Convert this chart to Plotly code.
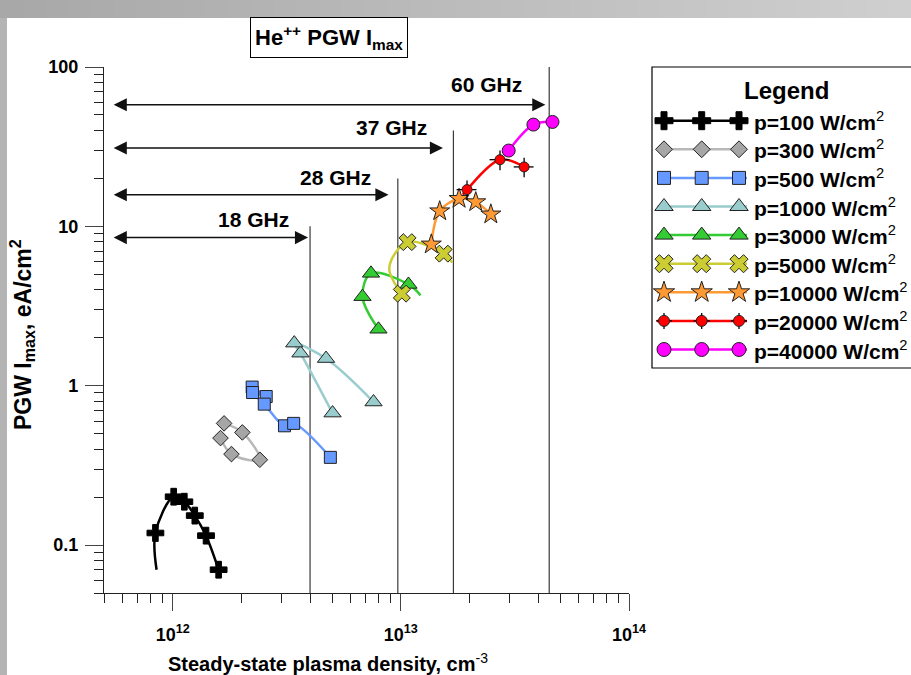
import numpy as np
import plotly.graph_objects as go

# ---------------- data: steady-state density (cm^-3) and PGW Imax (eA/cm^2) ----------------
p100_n = [8.4e11, 1.01e12, 1.125e12, 1.25e12, 1.40e12, 1.59e12]
p100_I = [0.119, 0.201, 0.187, 0.153, 0.1145, 0.070]
# lower start of the fitted p=100 curve
p100_head_n = [8.5e11]
p100_head_I = [0.070]

p300_n = [1.68e12, 2.02e12, 2.41e12, 1.81e12, 1.62e12]
p300_I = [0.58, 0.509, 0.343, 0.372, 0.469]

p500_n = [2.23e12, 2.57e12, 2.24e12, 2.52e12, 3.09e12, 3.39e12, 4.91e12]
p500_I = [0.98, 0.855, 0.906, 0.766, 0.56, 0.58, 0.355]

p1000_n = [5.02e12, 3.63e12, 3.41e12, 4.70e12, 7.59e12]
p1000_I = [0.673, 1.60, 1.85, 1.48, 0.79]

p3000_n = [7.98e12, 6.79e12, 7.40e12, 1.08e13]
p3000_I = [2.26, 3.62, 5.07, 4.32]
# fitted curve runs on past the last point
p3000_tail_n = [1.22e13]
p3000_tail_I = [3.69]

p5000_n = [1.01e13, 1.07e13, 1.54e13]
p5000_I = [3.78, 7.96, 6.74]
# fitted curve: bend between the first two points and run-out after the last
p5000_bend_n = [8.9e12]
p5000_bend_I = [5.5]
p5000_tail_n = [1.68e13]
p5000_tail_I = [5.92]

p10000_n = [1.36e13, 1.48e13, 1.80e13, 2.13e13, 2.48e13]
p10000_I = [7.71, 12.45, 14.9, 14.2, 11.9]

p20000_n = [1.95e13, 2.72e13, 3.47e13]
p20000_I = [17.0, 26.2, 23.6]
p20000_head_n = [1.87e13]
p20000_head_I = [15.8]
p20000_err_n_pct = 10
p20000_err_I_pct = 14

p40000_n = [2.97e13, 3.81e13, 4.62e13]
p40000_I = [29.9, 43.5, 45.2]

# cutoff densities for the microwave frequencies and the height of their markers
freq_labels = ["18 GHz", "28 GHz", "37 GHz", "60 GHz"]
cutoff_n = [4.0e12, 9.7e12, 1.70e13, 4.47e13]
cutoff_top = [10, 20, 40, 100]
arrow_I = [8.5, 15.8, 31, 58]
arrow_start_n = 5.43e11
arrow_end_n = [3.92e12, 8.83e12, 1.53e13, 4.30e13]
label_n = [2.26e12, 5.16e12, 9.1e12, 2.37e13]
label_I = [11.0, 20.2, 41.5, 77.4]

legend_labels = ["p=100 W/cm", "p=300 W/cm", "p=500 W/cm", "p=1000 W/cm", "p=3000 W/cm",
                 "p=5000 W/cm", "p=10000 W/cm", "p=20000 W/cm", "p=40000 W/cm"]

x_ticks = [1e12, 1e13, 1e14]
x_ticktext = ["10<sup>12</sup>", "10<sup>13</sup>", "10<sup>14</sup>"]
y_ticks = [0.1, 1, 10, 100]
y_ticktext = ["0.1", "1", "10", "100"]

# ---------------- styles ----------------
FONT = "Arial, Liberation Sans, sans-serif"
EDGE = "#222222"
series = [
    dict(n=p100_n, I=p100_I, cn=p100_head_n + p100_n, cI=p100_head_I + p100_I,
         line="#000000", fill="#000000", symbol="cross", size=14, edge="#000000"),
    dict(n=p300_n, I=p300_I, cn=p300_n, cI=p300_I,
         line="#b8b8b8", fill="#a6a6a6", symbol="diamond", size=12, edge=EDGE),
    dict(n=p500_n, I=p500_I, cn=p500_n, cI=p500_I,
         line="#6699ff", fill="#6699ff", symbol="square", size=12, edge=EDGE),
    dict(n=p1000_n, I=p1000_I, cn=p1000_n, cI=p1000_I,
         line="#99cccc", fill="#99cccc", symbol="triangle-up", size=15, edge=EDGE),
    dict(n=p3000_n, I=p3000_I, cn=p3000_n + p3000_tail_n, cI=p3000_I + p3000_tail_I,
         line="#33cc33", fill="#33cc33", symbol="triangle-up", size=15, edge=EDGE),
    dict(n=p5000_n, I=p5000_I,
         cn=p5000_n[:1] + p5000_bend_n + p5000_n[1:] + p5000_tail_n,
         cI=p5000_I[:1] + p5000_bend_I + p5000_I[1:] + p5000_tail_I,
         line="#cccc33", fill="#cccc33", symbol="x", size=15, edge=EDGE),
    dict(n=p10000_n, I=p10000_I, cn=p10000_n, cI=p10000_I,
         line="#ff9933", fill="#ff9933", symbol="star", size=15, edge=EDGE),
    dict(n=p20000_n, I=p20000_I, cn=p20000_head_n + p20000_n, cI=p20000_head_I + p20000_I,
         line="#ff0000", fill="#ff0000", symbol="circle", size=10, edge=EDGE),
    dict(n=p40000_n, I=p40000_I, cn=p40000_n, cI=p40000_I,
         line="#ff00ff", fill="#ff00ff", symbol="circle", size=13, edge=EDGE),
]

W, H = 911, 675
ML, MR, MT, MB = 104, 0, 67, 82
PW = W - ML - MR          # paper width in px
PH = H - MT - MB          # paper height in px
PLOT_W = 525              # width of the data area


def px_x(px):
    return (px - ML) / PW


def px_y(py):
    return (H - MB - py) / PH


fig = go.Figure()

# cutoff lines
for n_c, top in zip(cutoff_n, cutoff_top):
    fig.add_trace(go.Scatter(x=[n_c, n_c], y=[0.05, top], mode="lines",
                             line=dict(color="#3a3a3a", width=1.2),
                             hoverinfo="skip", showlegend=False))

# data series: smooth curve first, then the measured points on top
for s in series:
    fig.add_trace(go.Scatter(
        x=s["cn"], y=s["cI"], mode="lines",
        line=dict(color=s["line"], width=2.5, shape="spline", smoothing=1.0),
        hoverinfo="skip", showlegend=False))
for i, s in enumerate(series):
    kw = {}
    if i == 7:
        kw["error_y"] = dict(type="percent", value=p20000_err_I_pct,
                             color="#000000", thickness=1.3, width=0)
        kw["error_x"] = dict(type="percent", value=p20000_err_n_pct,
                             color="#000000", thickness=1.3, width=0)
    fig.add_trace(go.Scatter(
        x=s["n"], y=s["I"], mode="markers",
        marker=dict(symbol=s["symbol"], size=s["size"], color=s["fill"],
                    line=dict(color=s["edge"], width=1)),
        showlegend=False, **kw))

# ---------------- hand-built legend panel on its own axes (pixel-like units) ----------------
LEG_X0, LEG_Y0, LEG_Y1 = 652, 67, 368
row0, row_step = 120.7, 28.6
sample_x = [664, 701.7, 739]
for i, s in enumerate(series):
    ry = row0 + i * row_step
    fig.add_trace(go.Scatter(x=[657, 747], y=[ry, ry], mode="lines",
                             line=dict(color=s["line"], width=2.5),
                             xaxis="x2", yaxis="y2", hoverinfo="skip", showlegend=False))
    kw = {}
    if i == 7:
        kw["error_y"] = dict(type="constant", value=8, color="#000000", thickness=1.3, width=0)
        kw["error_x"] = dict(type="constant", value=8, color="#000000", thickness=1.3, width=0)
    fig.add_trace(go.Scatter(x=sample_x, y=[ry] * 3, mode="markers",
                             marker=dict(symbol=s["symbol"], size=s["size"] + 1, color=s["fill"],
                                         line=dict(color=s["edge"], width=1)),
                             xaxis="x2", yaxis="y2", hoverinfo="skip", showlegend=False, **kw))

annotations = []
for i, lab in enumerate(legend_labels):
    annotations.append(dict(x=752, y=row0 + i * row_step, xref="x2", yref="y2",
                            text="<b>" + lab + "</b><sup>2</sup>",
                            showarrow=False, xanchor="left", yanchor="middle",
                            font=dict(family=FONT, size=21, color="#000000")))
annotations.append(dict(x=786, y=90, xref="x2", yref="y2", text="<b>Legend</b>",
                        showarrow=False, xanchor="center", yanchor="middle",
                        font=dict(family=FONT, size=24, color="#000000")))

# frequency arrows and labels
for lab, a_I, a_end, l_n, l_I in zip(freq_labels, arrow_I, arrow_end_n, label_n, label_I):
    annotations.append(dict(x=np.log10(a_end), y=np.log10(a_I), ax=np.log10(arrow_start_n),
                            ay=np.log10(a_I), xref="x", yref="y", axref="x", ayref="y",
                            showarrow=True, arrowhead=2, startarrowhead=2,
                            arrowside="end+start", arrowsize=1.75, startarrowsize=1.75,
                            arrowwidth=1.5, arrowcolor="#111111", standoff=0, startstandoff=0,
                            text=""))
    annotations.append(dict(x=np.log10(l_n), y=np.log10(l_I), xref="x", yref="y",
                            text="<b>" + lab + "</b>", showarrow=False,
                            xanchor="center", yanchor="middle",
                            font=dict(family=FONT, size=21, color="#000000")))

# boxed title
annotations.append(dict(x=px_x(329), y=px_y(38), xref="paper", yref="paper",
                        text="<b>He<sup>++</sup> PGW I<sub>max</sub></b>", showarrow=False,
                        xanchor="center", yanchor="middle", bordercolor="#000000",
                        borderwidth=1, borderpad=4, bgcolor="#ffffff",
                        font=dict(family=FONT, size=22, color="#000000")))

# axis titles
annotations.append(dict(x=px_x(328), y=px_y(662), xref="paper", yref="paper",
                        text="<b>Steady-state plasma density, cm</b><sup>-3</sup>", showarrow=False,
                        xanchor="center", yanchor="middle",
                        font=dict(family=FONT, size=20, color="#000000")))
annotations.append(dict(x=px_x(22), y=px_y(335), xref="paper", yref="paper",
                        text="<b>PGW I<sub>max</sub>, eA/cm<sup>2</sup></b>", showarrow=False,
                        textangle=-90, xanchor="center", yanchor="middle",
                        font=dict(family=FONT, size=23, color="#000000")))

# ---------------- decorative frame: grey bands along top and left ----------------
shapes = []
top_c0 = np.array([0xa8, 0xa8, 0xa8])
top_c1 = np.array([0xd0, 0xd0, 0xd0])
nstrip = 40
for k in range(nstrip):
    t = (k + 0.5) / nstrip
    c = (top_c0 + (top_c1 - top_c0) * t).astype(int)
    shapes.append(dict(type="rect", xref="paper", yref="paper",
                       x0=px_x(k * W / nstrip), x1=px_x((k + 1) * W / nstrip + 1),
                       y0=px_y(18), y1=px_y(0), line=dict(width=0),
                       fillcolor="rgb(%d,%d,%d)" % tuple(c), layer="below"))
shapes.append(dict(type="rect", xref="paper", yref="paper",
                   x0=px_x(0), x1=px_x(7), y0=px_y(H), y1=px_y(18),
                   line=dict(width=0), fillcolor="#b4b4b4", layer="below"))
# legend frame
shapes.append(dict(type="rect", xref="paper", yref="paper",
                   x0=px_x(LEG_X0), x1=px_x(W + 10), y0=px_y(LEG_Y1), y1=px_y(LEG_Y0),
                   line=dict(color="#000000", width=1.2), fillcolor="rgba(0,0,0,0)"))

axis_font = dict(family=FONT, size=18, color="#000000", weight="bold")
x_minor = [v * 10 ** e for e in (11, 12, 13) for v in range(2, 10) if v * 10 ** e >= 5e11]
y_minor = [v * 10 ** e for e in (-2, -1, 0, 1) for v in range(2, 10) if v * 10 ** e >= 0.05]

fig.update_layout(
    width=W, height=H,
    margin=dict(l=ML, r=MR, t=MT, b=MB, autoexpand=False),
    paper_bgcolor="#ffffff", plot_bgcolor="rgba(0,0,0,0)",
    showlegend=False,
    xaxis=dict(type="log", range=[np.log10(5e11), 14], domain=[0, PLOT_W / PW],
               showline=True, linecolor="#222222", linewidth=1.3, mirror=False,
               showgrid=False, zeroline=False,
               tickmode="array", tickvals=x_ticks, ticktext=x_ticktext,
               ticks="outside", ticklen=17, tickwidth=1.3, tickcolor="#444444",
               tickfont=axis_font, ticklabelstandoff=8,
               minor=dict(tickmode="array", tickvals=x_minor, ticks="outside",
                          ticklen=9, tickwidth=1.2, tickcolor="#222222", showgrid=False)),
    yaxis=dict(type="log", range=[np.log10(0.05), 2], domain=[0, 1],
               showline=True, linecolor="#222222", linewidth=1.3, mirror=False,
               showgrid=False, zeroline=False,
               tickmode="array", tickvals=y_ticks, ticktext=y_ticktext,
               ticks="outside", ticklen=18, tickwidth=1.3, tickcolor="#444444",
               tickfont=axis_font, ticklabelstandoff=3,
               minor=dict(tickmode="array", tickvals=y_minor, ticks="outside",
                          ticklen=9, tickwidth=1.2, tickcolor="#222222", showgrid=False)),
    xaxis2=dict(domain=[px_x(LEG_X0), 1], range=[LEG_X0, W], anchor="y2",
                visible=False, fixedrange=True),
    yaxis2=dict(domain=[px_y(LEG_Y1), px_y(LEG_Y0)], range=[LEG_Y1, LEG_Y0], anchor="x2",
                visible=False, fixedrange=True),
    annotations=annotations,
    shapes=shapes,
)

fig.write_html("out.html")
